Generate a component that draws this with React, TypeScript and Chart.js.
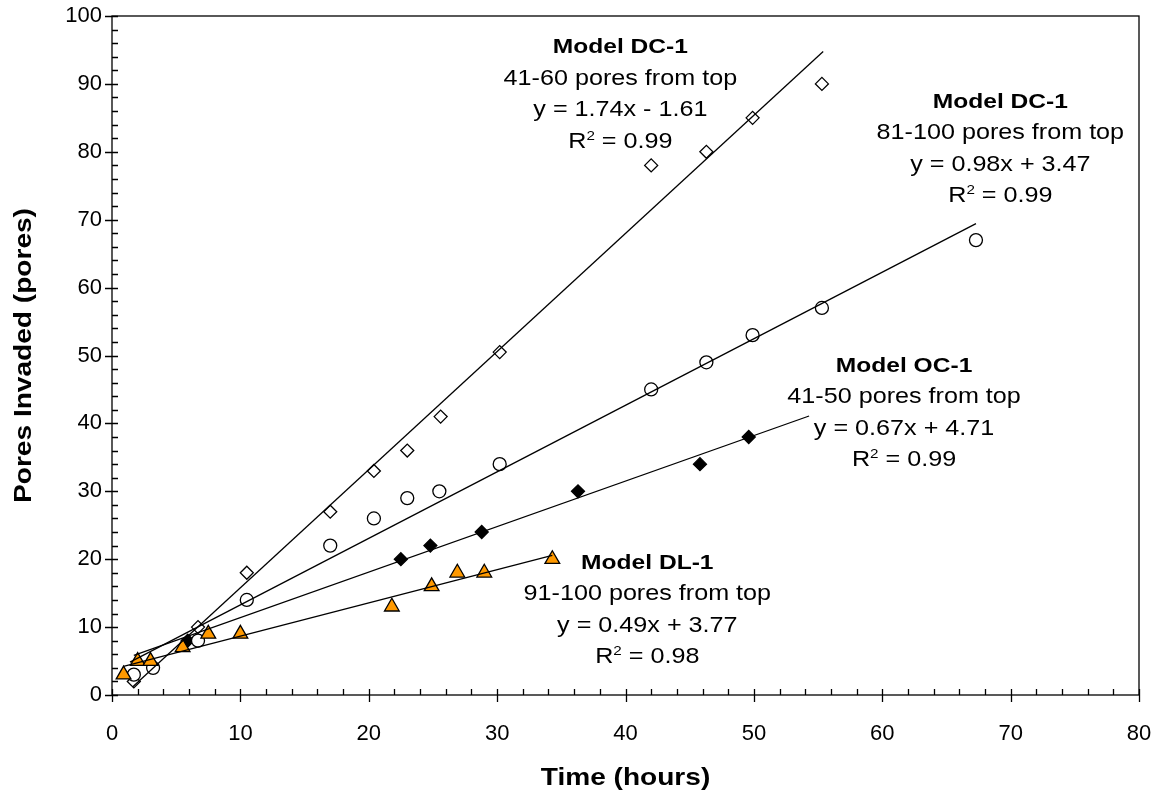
import React, { useEffect, useRef } from "react";
import { Chart, registerables } from "chart.js";

Chart.register(...registerables);

// ---------- Data ----------
// Model DC-1, 41-60 pores from top (open diamonds)
const dc4160X = [1.7, 6.7, 10.5, 17.0, 20.4, 23.0, 25.6, 30.2, 42.0, 46.3, 49.9, 55.3];
const dc4160Y = [2, 10, 18, 27, 33, 36, 41, 50.5, 78, 80, 85, 90];

// Model DC-1, 81-100 pores from top (open circles)
const dc81100X = [1.7, 3.2, 6.7, 10.5, 17.0, 20.4, 23.0, 25.5, 30.2, 42.0, 46.3, 49.9, 55.3, 67.3];
const dc81100Y = [3, 4, 8, 14, 22, 26, 29, 30, 34, 45, 49, 53, 57, 67];

// Model OC-1, 41-50 pores from top (filled diamonds)
const oc4150X = [5.9, 22.5, 24.8, 28.8, 36.3, 45.8, 49.6];
const oc4150Y = [8, 20, 22, 24, 30, 34, 38];

// Model DL-1, 91-100 pores from top (orange triangles)
const dl91100X = [0.9, 2.0, 3.0, 5.5, 7.5, 10.0, 21.8, 24.9, 26.9, 29.0, 34.3];
const dl91100Y = [3, 5, 5, 7, 9, 9, 13, 16, 18, 18, 20];

// Linear trendlines (as labelled on the chart)
const trendSlopes = [1.74, 0.98, 0.67, 0.49];
const trendIntercepts = [-1.61, 3.47, 4.71, 3.77];
const trendXStart = [1.6, 1.4, 1.7, 0.9];
const trendXEnd = [55.4, 67.3, 54.3, 34.3];

// Annotation texts
const annotTitles = ["Model DC-1", "Model DC-1", "Model OC-1", "Model DL-1"];
const annotRanges = ["41-60 pores from top", "81-100 pores from top", "41-50 pores from top", "91-100 pores from top"];
const annotEquations = ["y = 1.74x - 1.61", "y = 0.98x + 3.47", "y = 0.67x + 4.71", "y = 0.49x + 3.77"];
const annotR2 = ["0.99", "0.99", "0.99", "0.98"];

// Axis
const xMin = 0, xMax = 80, xStep = 10;
const yMin = 0, yMax = 100, yStep = 10;
const xTitle = "Time (hours)";
const yTitle = "Pores Invaded (pores)";

// ---------- Layout / style (not data) ----------
const annotAnchors = [
  { x: 39.6, y: 95.6 },
  { x: 69.2, y: 87.6 },
  { x: 61.7, y: 48.7 },
  { x: 41.7, y: 19.7 },
];
const FONT = '"Liberation Sans", Arial, Helvetica, sans-serif';
const STRETCH = 1.17;
const LINE_GAP = 31.5;
const ANNOT_SIZE = 21;
const ANNOT_REG_SIZE = 21.5;
const MINOR_STEP = 2;

function toPts(xs: number[], ys: number[]) {
  return xs.map((x, i) => ({ x, y: ys[i] }));
}

function drawStretchedCenter(ctx: CanvasRenderingContext2D, text: string, cx: number, baseline: number, font: string) {
  ctx.save();
  ctx.translate(cx, baseline);
  ctx.scale(STRETCH, 1);
  ctx.font = font;
  ctx.textAlign = "center";
  ctx.textBaseline = "alphabetic";
  ctx.fillText(text, 0, 0);
  ctx.restore();
}

function drawR2(ctx: CanvasRenderingContext2D, value: string, cx: number, baseline: number) {
  const normal = `${ANNOT_REG_SIZE}px ${FONT}`;
  const small = `${Math.round(ANNOT_REG_SIZE * 0.62)}px ${FONT}`;
  ctx.save();
  ctx.translate(cx, baseline);
  ctx.scale(STRETCH, 1);
  ctx.textAlign = "left";
  ctx.textBaseline = "alphabetic";
  ctx.font = normal;
  const wR = ctx.measureText("R").width;
  const rest = " = " + value;
  const wRest = ctx.measureText(rest).width;
  ctx.font = small;
  const w2 = ctx.measureText("2").width;
  const total = wR + w2 + wRest;
  let x = -total / 2;
  ctx.font = normal;
  ctx.fillText("R", x, 0);
  x += wR;
  ctx.font = small;
  ctx.fillText("2", x, -8);
  x += w2;
  ctx.font = normal;
  ctx.fillText(rest, x, 0);
  ctx.restore();
}

const decorPlugin = {
  id: "decor",
  afterDraw(chart: any) {
    const ctx: CanvasRenderingContext2D = chart.ctx;
    const xs = chart.scales.x;
    const ys = chart.scales.y;
    const { left, right, top, bottom } = chart.chartArea;
    ctx.save();
    ctx.strokeStyle = "#000";
    ctx.fillStyle = "#000";
    ctx.lineWidth = 1.3;
    // border box
    ctx.strokeRect(left, top, right - left, bottom - top);
    // ticks
    ctx.beginPath();
    for (let v = xMin; v <= xMax + 1e-9; v += MINOR_STEP) {
      const px = Math.round(xs.getPixelForValue(v)) + 0.5;
      const major = Math.abs(v % xStep) < 1e-9;
      ctx.moveTo(px, bottom - 6);
      ctx.lineTo(px, bottom + (major ? 7 : 0));
    }
    for (let v = yMin; v <= yMax + 1e-9; v += MINOR_STEP) {
      const py = Math.round(ys.getPixelForValue(v)) + 0.5;
      const major = Math.abs(v % yStep) < 1e-9;
      ctx.moveTo(left - (major ? 7 : 0), py);
      ctx.lineTo(left + 6, py);
    }
    ctx.stroke();

    // annotations
    for (let i = 0; i < annotTitles.length; i++) {
      const cx = xs.getPixelForValue(annotAnchors[i].x);
      const cy = ys.getPixelForValue(annotAnchors[i].y);
      const capHalf = ANNOT_SIZE * 0.716 / 2;
      const b0 = cy + capHalf;
      drawStretchedCenter(ctx, annotTitles[i], cx, b0, `bold ${ANNOT_SIZE}px ${FONT}`);
      drawStretchedCenter(ctx, annotRanges[i], cx, b0 + LINE_GAP, `${ANNOT_REG_SIZE}px ${FONT}`);
      drawStretchedCenter(ctx, annotEquations[i], cx, b0 + LINE_GAP * 2, `${ANNOT_REG_SIZE}px ${FONT}`);
      drawR2(ctx, annotR2[i], cx, b0 + LINE_GAP * 3);
    }

    // axis titles
    const xc = (left + right) / 2;
    drawStretchedCenter(ctx, xTitle, xc, 785, `bold 24px ${FONT}`);
    ctx.save();
    ctx.translate(31, (top + bottom) / 2);
    ctx.rotate(-Math.PI / 2);
    ctx.scale(STRETCH, 1);
    ctx.font = `bold 24px ${FONT}`;
    ctx.textAlign = "center";
    ctx.textBaseline = "alphabetic";
    ctx.fillText(yTitle, 0, 0);
    ctx.restore();

    ctx.restore();
  },
};

export default function App() {
  const canvasRef = useRef<HTMLCanvasElement | null>(null);

  useEffect(() => {
    if (!canvasRef.current) return;
    const trendSets = trendSlopes.map((m, i) => ({
      label: "trend" + i,
      data: [
        { x: trendXStart[i], y: m * trendXStart[i] + trendIntercepts[i] },
        { x: trendXEnd[i], y: m * trendXEnd[i] + trendIntercepts[i] },
      ],
      showLine: true,
      borderColor: "#000",
      borderWidth: 1.3,
      pointRadius: 0,
      fill: false,
      order: 0,
    }));

    const chart = new Chart(canvasRef.current, {
      type: "scatter",
      data: {
        datasets: [
          ...trendSets,
          {
            label: "DL-1 91-100",
            data: toPts(dl91100X, dl91100Y),
            pointStyle: "triangle",
            pointRadius: 8.5,
            backgroundColor: "#FF9900",
            borderColor: "#000",
            borderWidth: 1.3,
            order: 1,
          },
          {
            label: "DC-1 81-100",
            data: toPts(dc81100X, dc81100Y),
            pointStyle: "circle",
            pointRadius: 6.5,
            backgroundColor: "#fff",
            borderColor: "#000",
            borderWidth: 1.3,
            order: 2,
          },
          {
            label: "OC-1 41-50",
            data: toPts(oc4150X, oc4150Y),
            pointStyle: "rectRot",
            pointRadius: 6.5,
            backgroundColor: "#000",
            borderColor: "#000",
            borderWidth: 1.3,
            order: 3,
          },
          {
            label: "DC-1 41-60",
            data: toPts(dc4160X, dc4160Y),
            pointStyle: "rectRot",
            pointRadius: 6.5,
            backgroundColor: "#fff",
            borderColor: "#000",
            borderWidth: 1.3,
            order: 4,
          },
        ] as any,
      },
      options: {
        animation: false,
        responsive: true,
        maintainAspectRatio: false,
        devicePixelRatio: 1,
        layout: { padding: { left: 0, top: 16, right: 22, bottom: 0 } },
        plugins: {
          legend: { display: false },
          tooltip: { enabled: false },
        },
        scales: {
          x: {
            type: "linear",
            min: xMin,
            max: xMax,
            grid: { display: false, drawTicks: true, tickLength: 26 },
            border: { display: false },
            ticks: {
              stepSize: xStep,
              color: "#000",
              padding: 0,
              font: { family: FONT, size: 22 },
            },
            afterFit: (s: any) => {
              s.height = 100;
            },
          },
          y: {
            type: "linear",
            min: yMin,
            max: yMax,
            grid: { display: false, drawTicks: true, tickLength: 10 },
            border: { display: false },
            ticks: {
              stepSize: yStep,
              color: "#000",
              padding: 0,
              font: { family: FONT, size: 22 },
            },
            afterFit: (s: any) => {
              s.width = 112;
            },
          },
        },
      } as any,
      plugins: [decorPlugin],
    });
    return () => chart.destroy();
  }, []);

  return (
    <div style={{ position: "absolute", left: 0, top: 0, width: 1161, height: 795, background: "#fff" }}>
      <canvas ref={canvasRef} />
    </div>
  );
}
